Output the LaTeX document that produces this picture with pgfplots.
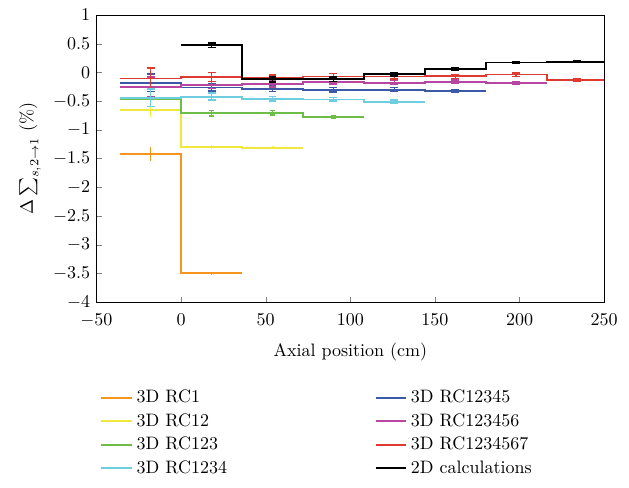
\documentclass[border=0pt]{standalone}
\usepackage{pgfplots}
\pgfplotsset{compat=1.18}
\definecolor{cOr}{RGB}{247,148,30}
\definecolor{cYe}{RGB}{240,232,60}
\definecolor{cGr}{RGB}{108,190,72}
\definecolor{cCy}{RGB}{110,205,222}
\definecolor{cBl}{RGB}{60,88,168}
\definecolor{cMa}{RGB}{184,70,160}
\definecolor{cRe}{RGB}{222,58,50}
\begin{document}
\begin{tikzpicture}
\begin{axis}[
  scale only axis,
  width=282pt, height=159.4pt,
  xmin=-50, xmax=250, ymin=-4, ymax=1,
  xtick={-50,0,50,100,150,200,250},
  ytick={-4,-3.5,-3,-2.5,-2,-1.5,-1,-0.5,0,0.5,1},
  yticklabel style={/pgf/number format/fixed},
  xticklabel shift=3pt,
  tick align=inside, tick pos=left,
  major tick length=3pt,
  xlabel={Axial position (cm)},
  xlabel style={yshift=-2pt},
  ylabel={$\Delta\sum_{s,2\rightarrow1}$ (\%)},
  every axis plot/.append style={line width=1.05pt},
  legend cell align=left,
  legend columns=2,
  legend style={draw=none, at={(0.436,-0.28)}, anchor=north, font=\normalsize,
    /tikz/every even column/.append style={column sep=80pt},
    row sep=0.5pt},
  error bars/error bar style={line width=0.8pt},
  error bars/error mark options={rotate=90, mark size=2.2pt, line width=0.8pt},
]
% RC1
\addplot[cOr, const plot] coordinates {(-36,-1.42) (0,-3.5) (36,-3.5)};
\addlegendentry{3D RC1}
\addplot[cOr, draw=none, mark=none, forget plot, error bars/.cd, y dir=both, y explicit, error mark=none]
  coordinates {(-18,-1.42) +- (0,0.12) (18,-3.5) +- (0,0.03)};
% RC12345
\addplot[cBl, const plot] coordinates {(-36,-0.18) (0,-0.26) (36,-0.28) (72,-0.30) (108,-0.30) (144,-0.32) (180,-0.32)};
\addlegendentry{3D RC12345}
\addplot[cBl, draw=none, mark=none, forget plot, error bars/.cd, y dir=both, y explicit]
  coordinates {(-18,-0.18) +- (0,0.155) (18,-0.26) +- (0,0.06) (54,-0.28) +- (0,0.05) (90,-0.30) +- (0,0.04) (126,-0.30) +- (0,0.035) (162,-0.32) +- (0,0.025)};
% RC12
\addplot[cYe, const plot] coordinates {(-36,-0.65) (0,-1.3) (36,-1.31) (72,-1.31)};
\addlegendentry{3D RC12}
\addplot[cYe, draw=none, mark=none, forget plot, error bars/.cd, y dir=both, y explicit, error mark=none]
  coordinates {(-18,-0.65) +- (0,0.12) (18,-1.3) +- (0,0.04) (54,-1.31) +- (0,0.03)};
% RC123456
\addplot[cMa, const plot] coordinates {(-36,-0.245) (0,-0.22) (36,-0.20) (72,-0.16) (108,-0.175) (144,-0.16) (180,-0.18) (216,-0.18)};
\addlegendentry{3D RC123456}
\addplot[cMa, draw=none, mark=none, forget plot, error bars/.cd, y dir=both, y explicit]
  coordinates {(-18,-0.245) +- (0,0.17) (18,-0.22) +- (0,0.06) (54,-0.20) +- (0,0.05) (90,-0.16) +- (0,0.04) (126,-0.175) +- (0,0.035) (162,-0.16) +- (0,0.03) (198,-0.18) +- (0,0.025)};
% RC123
\addplot[cGr, const plot] coordinates {(-36,-0.455) (0,-0.71) (36,-0.70) (72,-0.78) (108,-0.78)};
\addlegendentry{3D RC123}
\addplot[cGr, draw=none, mark=none, forget plot, error bars/.cd, y dir=both, y explicit, error mark options={rotate=90, mark size=1.5pt, line width=0.8pt}]
  coordinates {(18,-0.71) +- (0,0.05) (54,-0.70) +- (0,0.04) (90,-0.78) +- (0,0.025)};
% RC1234567
\addplot[cRe, const plot] coordinates {(-36,-0.105) (0,-0.075) (36,-0.10) (72,-0.07) (108,-0.07) (144,-0.065) (180,-0.035) (216,-0.13) (252,-0.13)};
\addlegendentry{3D RC1234567}
\addplot[cRe, draw=none, mark=none, forget plot, error bars/.cd, y dir=both, y explicit]
  coordinates {(-18,-0.105) +- (0,0.18) (18,-0.075) +- (0,0.08) (54,-0.10) +- (0,0.055) (90,-0.07) +- (0,0.05) (126,-0.07) +- (0,0.04) (162,-0.065) +- (0,0.035) (198,-0.035) +- (0,0.03) (234,-0.13) +- (0,0.02)};
% RC1234
\addplot[cCy, const plot] coordinates {(-36,-0.44) (0,-0.42) (36,-0.46) (72,-0.47) (108,-0.51) (144,-0.51)};
\addlegendentry{3D RC1234}
\addplot[cCy, draw=none, mark=none, forget plot, error bars/.cd, y dir=both, y explicit]
  coordinates {(-18,-0.44) +- (0,0.15) (18,-0.42) +- (0,0.06) (54,-0.46) +- (0,0.04) (90,-0.47) +- (0,0.03) (126,-0.51) +- (0,0.03)};
% 2D
\addplot[black, const plot] coordinates {(0,0.475) (36,-0.12) (72,-0.12) (108,-0.03) (144,0.06) (180,0.175) (216,0.19) (252,0.19)};
\addlegendentry{2D calculations}
\addplot[black, draw=none, mark=none, forget plot, error bars/.cd, y dir=both, y explicit]
  coordinates {(18,0.475) +- (0,0.04) (54,-0.12) +- (0,0.045) (90,-0.12) +- (0,0.04) (126,-0.03) +- (0,0.03) (162,0.06) +- (0,0.025) (198,0.175) +- (0,0.02) (234,0.19) +- (0,0.02)};
\end{axis}
\useasboundingbox (-53.6pt,-102.8pt) rectangle (295.8pt,167.8pt);
\end{tikzpicture}
\end{document}
